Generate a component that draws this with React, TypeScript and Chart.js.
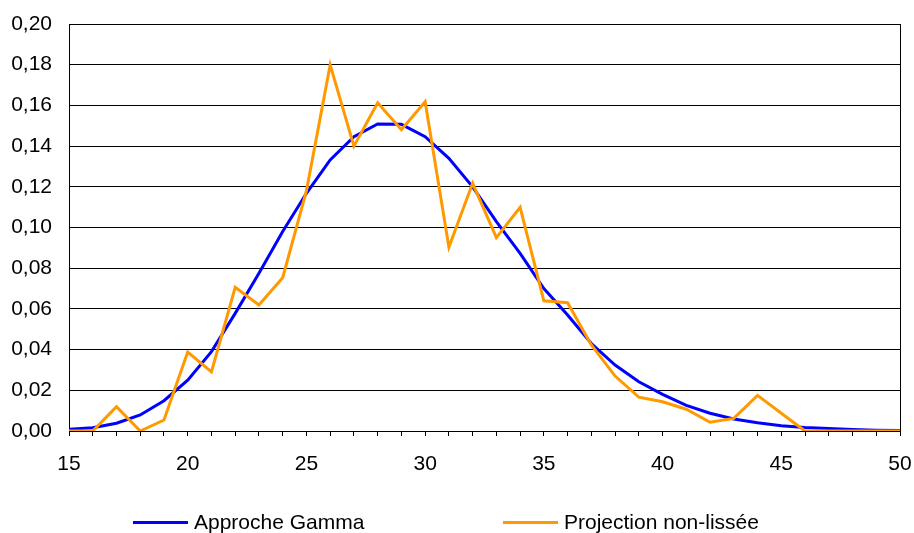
import React, { useEffect, useRef } from "react";
import { Chart, registerables } from "chart.js";

Chart.register(...registerables);

const ages: number[] = [15, 16, 17, 18, 19, 20, 21, 22, 23, 24, 25, 26, 27, 28, 29, 30, 31, 32, 33, 34, 35, 36, 37, 38, 39, 40, 41, 42, 43, 44, 45, 46, 47, 48, 49, 50];

const gammaValues: number[] = [0.0008, 0.0016, 0.0038, 0.0079, 0.0149, 0.025, 0.039, 0.0578, 0.0775, 0.098, 0.1168, 0.1332, 0.1446, 0.1509, 0.1507, 0.1446, 0.134, 0.12, 0.1029, 0.0873, 0.07, 0.057, 0.043, 0.0324, 0.0242, 0.018, 0.0126, 0.0087, 0.0059, 0.0041, 0.0026, 0.0017, 0.0012, 0.0007, 0.0004, 0.0003];

const projectionValues: number[] = [0, 0, 0.012, 0, 0.0054, 0.0388, 0.0291, 0.0706, 0.0619, 0.0753, 0.118, 0.1799, 0.14, 0.1613, 0.148, 0.1618, 0.0903, 0.1217, 0.095, 0.1099, 0.064, 0.063, 0.0423, 0.027, 0.0166, 0.0144, 0.0107, 0.0043, 0.0062, 0.0175, 0.0087, 0, 0, 0, 0, 0];

const seriesNames: string[] = ["Approche Gamma", "Projection non-lissée"];
const seriesColors: string[] = ["#0000ff", "#ff9900"];

const X_MIN = 15;
const X_MAX = 50;
const Y_MIN = 0;
const Y_MAX = 0.2;
const Y_STEP = 0.02;
const X_LABEL_STEP = 5;

const FONT = "'Liberation Sans', Arial, Helvetica, sans-serif";

export default function App() {
  const canvasRef = useRef<HTMLCanvasElement | null>(null);

  useEffect(() => {
    document.body.style.margin = "0";
    const canvas = canvasRef.current;
    if (!canvas) return;

    const frameAndLegend = {
      id: "frameAndLegend",
      afterDraw(chart: any) {
        const { ctx, chartArea } = chart;
        ctx.save();
        ctx.strokeStyle = "#000";
        ctx.lineWidth = 1;
        ctx.beginPath();
        const rx = Math.round(chartArea.right) + 0.5;
        ctx.moveTo(rx, chartArea.top);
        ctx.lineTo(rx, chartArea.bottom);
        ctx.stroke();

        const legendY = 522.5;
        const items = [
          { x: 133, w: 55 },
          { x: 503, w: 55 },
        ];
        ctx.font = `21px ${FONT}`;
        ctx.textBaseline = "middle";
        ctx.textAlign = "left";
        items.forEach((it, i) => {
          ctx.strokeStyle = seriesColors[i];
          ctx.lineWidth = 3;
          ctx.beginPath();
          ctx.moveTo(it.x, legendY);
          ctx.lineTo(it.x + it.w, legendY);
          ctx.stroke();
          ctx.fillStyle = "#000";
          ctx.fillText(seriesNames[i], it.x + it.w + 6, legendY + 1);
        });
        ctx.restore();
      },
    };

    const chart = new Chart(canvas, {
      type: "line",
      data: {
        datasets: [
          {
            label: seriesNames[0],
            data: ages.map((a, i) => ({ x: a, y: gammaValues[i] })),
            borderColor: seriesColors[0],
            backgroundColor: seriesColors[0],
            borderWidth: 3,
            pointRadius: 0,
            tension: 0,
            order: 2,
          },
          {
            label: seriesNames[1],
            data: ages.map((a, i) => ({ x: a, y: projectionValues[i] })),
            borderColor: seriesColors[1],
            backgroundColor: seriesColors[1],
            borderWidth: 3,
            pointRadius: 0,
            tension: 0,
            order: 1,
          },
        ],
      },
      options: {
        responsive: false,
        animation: false,
        layout: { padding: { top: 24, right: 14, left: 0, bottom: 0 } },
        plugins: {
          legend: { display: false },
          tooltip: { enabled: false },
          title: { display: false },
        },
        scales: {
          x: {
            type: "linear",
            min: X_MIN,
            max: X_MAX,
            afterFit: (scale: any) => {
              scale.height = 102;
              scale.paddingLeft = 0;
              scale.paddingRight = 0;
            },
            grid: {
              drawOnChartArea: false,
              drawTicks: true,
              tickLength: 5,
              color: "#000",
              lineWidth: 1,
            },
            border: { display: true, color: "#000", width: 1 },
            ticks: {
              stepSize: 1,
              autoSkip: false,
              maxRotation: 0,
              minRotation: 0,
              padding: 16,
              color: "#000",
              font: { family: FONT, size: 21 },
              callback: (v: any) => (Number(v) % X_LABEL_STEP === 0 ? String(v) : ""),
            },
          },
          y: {
            min: Y_MIN,
            max: Y_MAX,
            afterFit: (scale: any) => {
              scale.width = 69;
              scale.paddingTop = 0;
              scale.paddingBottom = 0;
            },
            grid: {
              drawTicks: false,
              color: "#000",
              lineWidth: 1,
            },
            border: { display: true, color: "#000", width: 1 },
            ticks: {
              stepSize: Y_STEP,
              padding: 17,
              color: "#000",
              font: { family: FONT, size: 21 },
              callback: (v: any) => Number(v).toFixed(2).replace(".", ","),
            },
          },
        },
      },
      plugins: [frameAndLegend],
    });

    return () => {
      chart.destroy();
    };
  }, []);

  return (
    <div style={{ width: 914, height: 533, position: "relative" }}>
      <canvas ref={canvasRef} width={914} height={533} style={{ display: "block" }} />
    </div>
  );
}
